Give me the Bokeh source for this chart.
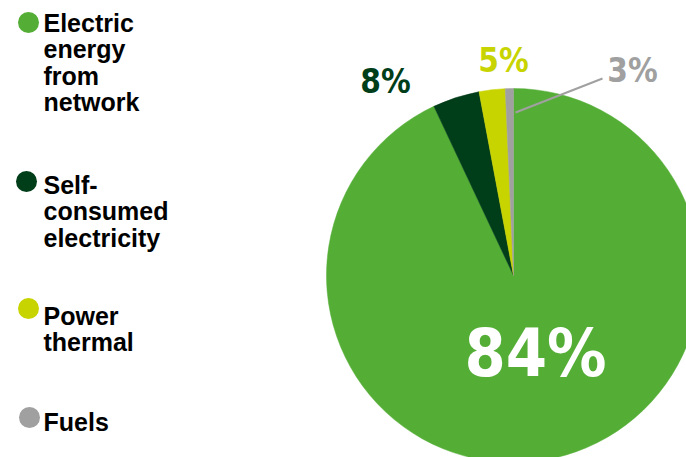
import math
from bokeh.plotting import figure
from bokeh.models import Range1d, ColumnDataSource
from bokeh.core.properties import value
from bokeh.embed import file_html
from bokeh.resources import INLINE

# ---- data ----
categories = ["Electric\nenergy\nfrom\nnetwork", "Self-\nconsumed\nelectricity", "Power\nthermal", "Fuels"]
shares = [93.0, 4.05, 2.25, 0.7]          # drawn slice sizes
pct_labels = ["84%", "8%", "5%", "3%"]     # printed labels
colors = ["#54AE36", "#003D19", "#C8D400", "#A0A0A0"]

W, H = 686, 457
p = figure(width=W, height=H, output_backend="svg", toolbar_location=None,
           x_range=Range1d(0, W), y_range=Range1d(0, H), min_border=0)
p.axis.visible = False
p.grid.visible = False
p.outline_line_color = None
p.background_fill_color = "white"
p.border_fill_color = "white"

# ---- pie ----
cx, cy, r = 513, H - 275, 187
total = sum(shares)
starts, ends = [], []
acc = 0.0
for s in shares:
    starts.append(math.pi / 2 - acc / total * 2 * math.pi)
    acc += s
    ends.append(math.pi / 2 - acc / total * 2 * math.pi)
src = ColumnDataSource(dict(start=starts, end=ends, color=colors))
p.wedge(x=cx, y=cy, radius=r, start_angle="start", end_angle="end", direction="clock",
        fill_color="color", line_color="color", line_width=0.5, source=src)

# leader line for the small slice
p.line(x=[515, 602], y=[H - 112, H - 78], line_color=colors[3], line_width=2)

cond = value("'DejaVu Sans Condensed', 'Liberation Sans Narrow', 'DejaVu Sans', sans-serif")
lab_x = [535, 385, 503, 632]
lab_y = [H - 353, H - 81, H - 60, H - 70]
lab_size = ["66px", "33px", "33px", "33px"]
lab_color = ["white", colors[1], colors[2], colors[3]]
p.text(x=lab_x, y=lab_y, text=pct_labels, text_font=cond, text_font_style="bold",
       text_font_size=lab_size, text_color=lab_color, text_align="center",
       text_baseline="middle")

# ---- legend ----
leg_dot_y = [H - 22, H - 181, H - 308, H - 417]
leg_dot_x = [28, 26, 28, 29]
p.scatter(x=leg_dot_x, y=leg_dot_y, size=21, fill_color=colors, line_color=None)
leg_text_y = [H - 8, H - 170, H - 301, H - 407]
p.text(x=43, y=leg_text_y, text=categories, text_font=value("Liberation Sans"),
       text_font_style="bold", text_font_size="25px", text_color="black",
       text_align="left", text_baseline="top", text_line_height=0.95)

open("out.html", "w").write(file_html(p, INLINE))
